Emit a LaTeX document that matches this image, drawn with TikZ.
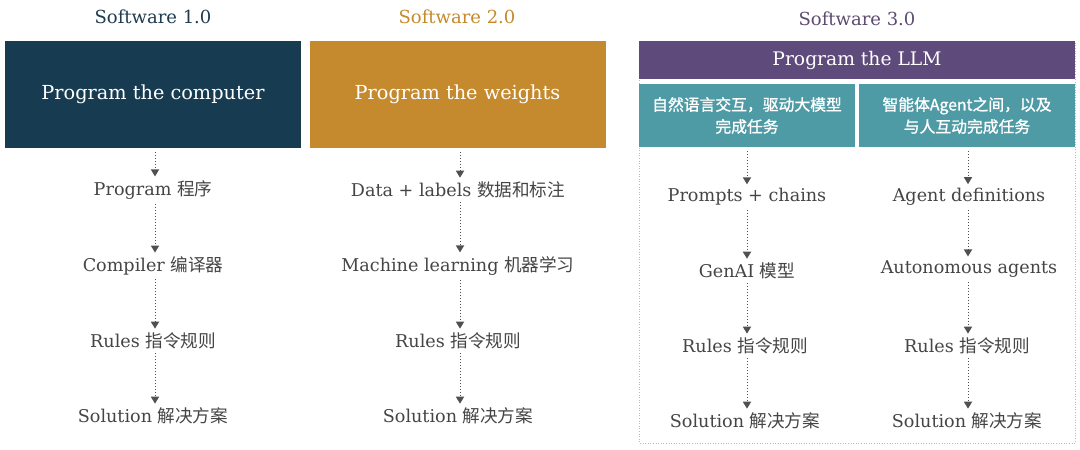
\documentclass[tikz,border=0pt]{standalone}
\usepackage{fontspec}
\setmainfont{DejaVu Serif}
\newfontfamily\cjk{Noto Sans CJK SC}
\newfontfamily\cjkb[FakeBold=1.2]{Noto Sans CJK SC}
\usetikzlibrary{arrows.meta}
\definecolor{cOne}{HTML}{173B51}
\definecolor{cTwo}{HTML}{C58A2E}
\definecolor{cPur}{HTML}{5E4B7C}
\definecolor{cTeal}{HTML}{4E9AA5}
\definecolor{tOne}{HTML}{1F3B50}
\definecolor{tTwo}{HTML}{C48A2E}
\definecolor{tThree}{HTML}{5E4B70}
\definecolor{cTxt}{HTML}{454545}
\definecolor{cArr}{HTML}{505050}
\tikzset{
  title/.style={font=\fontsize{18}{21}\selectfont, inner sep=0pt},
  bigbox/.style={fill=#1, draw=none, text=white, minimum width=296pt, minimum height=107pt, inner sep=0pt, font=\fontsize{19.3}{23}\selectfont},
  tealbox/.style={fill=cTeal, draw=none, text=white, minimum width=216pt, minimum height=63pt, inner sep=0pt, align=center, font=\cjkb\fontsize{15.8}{22}\selectfont},
  item/.style={text=cTxt, inner sep=0pt, font=\fontsize{17.6}{20}\selectfont},
  flow/.style={cArr, line width=1pt, dotted, -{Triangle[length=7pt,width=8.5pt,line width=0pt]}, shorten >=1pt},
}
\begin{document}
\begin{tikzpicture}[x=1pt,y=-1pt]
\useasboundingbox (0,0) rectangle (1080,450);
\fill[white] (0,0) rectangle (1080,450);
% titles
\node[title, text=tOne] (t1) at (153,17) {Software 1.0};
\node[title, text=tTwo] (t2) at (457,17) {Software 2.0};
\node[title, text=tThree] (t3) at (857,19) {Software 3.0};
% big boxes
\node[bigbox=cOne] (b1) at (153,94.5) {Program the computer};
\node[bigbox=cTwo] (b2) at (457.5,94.5) {Program the weights};
% software 3.0 frame
\draw[gray!55, line width=0.6pt, dotted] (639,41) rectangle (1075,443);
\node[fill=cPur, text=white, minimum width=436pt, minimum height=38pt, inner sep=0pt, font=\fontsize{18.7}{22}\selectfont] (b3) at (857,60) {Program the LLM};
\node[tealbox] (b4) at (747,115.5) {自然语言交互，驱动大模型\\完成任务};
\node[tealbox] (b5) at (967,115.5) {智能体Agent之间，以及\\与人互动完成任务};
% column 1
\node[item] (a1) at (153,190) {Program {\cjk 程序}};
\node[item] (a2) at (153,266) {Compiler {\cjk 编译器}};
\node[item] (a3) at (153,341) {Rules {\cjk 指令规则}};
\node[item] (a4) at (153,416) {Solution {\cjk 解决方案}};
% column 2
\node[item] (c1) at (458,190) {Data + labels {\cjk 数据和标注}};
\node[item] (c2) at (458,266) {Machine learning {\cjk 机器学习}};
\node[item] (c3) at (458,341) {Rules {\cjk 指令规则}};
\node[item] (c4) at (458,416) {Solution {\cjk 解决方案}};
% column 3
\node[item] (d1) at (747,197) {Prompts + chains};
\node[item] (d2) at (747,271) {GenAI {\cjk 模型}};
\node[item] (d3) at (745,346) {Rules {\cjk 指令规则}};
\node[item] (d4) at (745,421) {Solution {\cjk 解决方案}};
% column 4
\node[item] (e1) at (969,197) {Agent definitions};
\node[item] (e2) at (969,269) {Autonomous agents};
\node[item] (e3) at (967,346) {Rules {\cjk 指令规则}};
\node[item] (e4) at (967,421) {Solution {\cjk 解决方案}};
% arrows (vertical, at the column's x)
\foreach \s/\t/\xx in {b1/a1/155,a1/a2/155,a2/a3/155,a3/a4/155,b2/c1/460,c1/c2/460,c2/c3/460,c3/c4/460,b4/d1/747,d1/d2/747,d2/d3/747,d3/d4/747,b5/e1/968,e1/e2/968,e2/e3/968,e3/e4/968}{
  \draw[flow] ([yshift=-4pt]\xx pt,0 |- \s.south) -- ([yshift=3pt]\xx pt,0 |- \t.north);
}
\end{tikzpicture}
\end{document}
